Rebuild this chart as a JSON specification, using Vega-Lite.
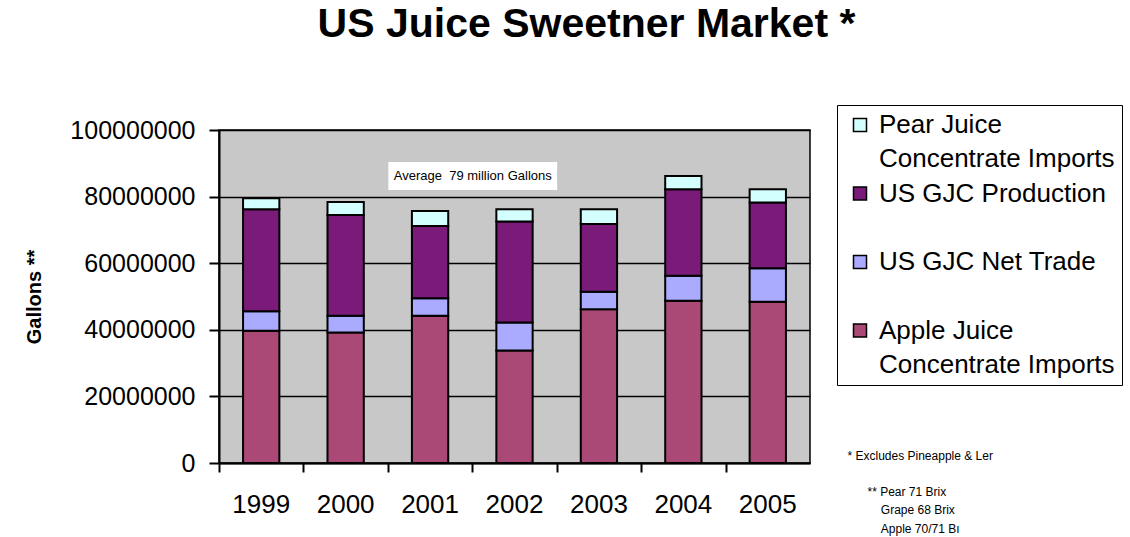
{
  "$schema": "https://vega.github.io/schema/vega-lite/v6.json",
  "width": 591,
  "height": 333,
  "autosize": {"type": "none"},
  "padding": {"left": 219, "top": 130, "right": 320, "bottom": 74},
  "background": "white",
  "title": {
    "text": "US Juice Sweetner Market *",
    "font": "Liberation Sans",
    "fontSize": 41,
    "fontWeight": "bold",
    "color": "black",
    "anchor": "middle",
    "dx": 72,
    "offset": 59
  },
  "config": {
    "view": {"fill": "#C8C8C8", "stroke": "black", "strokeWidth": 1.5},
    "style": {"guide-label": {"lineHeight": 34}}
  },
  "datasets": {
    "juice": [
      {"year": "1999", "series": "Apple Juice Concentrate Imports", "gallons": 39700000},
      {"year": "1999", "series": "US GJC Net Trade", "gallons": 5900000},
      {"year": "1999", "series": "US GJC Production", "gallons": 30600000},
      {"year": "1999", "series": "Pear Juice Concentrate Imports", "gallons": 3300000},
      {"year": "2000", "series": "Apple Juice Concentrate Imports", "gallons": 39200000},
      {"year": "2000", "series": "US GJC Net Trade", "gallons": 5000000},
      {"year": "2000", "series": "US GJC Production", "gallons": 30300000},
      {"year": "2000", "series": "Pear Juice Concentrate Imports", "gallons": 3900000},
      {"year": "2001", "series": "Apple Juice Concentrate Imports", "gallons": 44200000},
      {"year": "2001", "series": "US GJC Net Trade", "gallons": 5300000},
      {"year": "2001", "series": "US GJC Production", "gallons": 21700000},
      {"year": "2001", "series": "Pear Juice Concentrate Imports", "gallons": 4500000},
      {"year": "2002", "series": "Apple Juice Concentrate Imports", "gallons": 33800000},
      {"year": "2002", "series": "US GJC Net Trade", "gallons": 8400000},
      {"year": "2002", "series": "US GJC Production", "gallons": 30300000},
      {"year": "2002", "series": "Pear Juice Concentrate Imports", "gallons": 3700000},
      {"year": "2003", "series": "Apple Juice Concentrate Imports", "gallons": 46200000},
      {"year": "2003", "series": "US GJC Net Trade", "gallons": 5200000},
      {"year": "2003", "series": "US GJC Production", "gallons": 20400000},
      {"year": "2003", "series": "Pear Juice Concentrate Imports", "gallons": 4400000},
      {"year": "2004", "series": "Apple Juice Concentrate Imports", "gallons": 48700000},
      {"year": "2004", "series": "US GJC Net Trade", "gallons": 7500000},
      {"year": "2004", "series": "US GJC Production", "gallons": 26000000},
      {"year": "2004", "series": "Pear Juice Concentrate Imports", "gallons": 4000000},
      {"year": "2005", "series": "Apple Juice Concentrate Imports", "gallons": 48400000},
      {"year": "2005", "series": "US GJC Net Trade", "gallons": 10100000},
      {"year": "2005", "series": "US GJC Production", "gallons": 19700000},
      {"year": "2005", "series": "Pear Juice Concentrate Imports", "gallons": 4000000}
    ],
    "note": [
      {"label": "Average \u00a079 million Gallons", "from": "2001", "to": "2003", "at": "2002", "low": 82000000, "high": 90400000, "mid": 86200000}
    ]
  },
  "layer": [
    {
      "data": {"name": "juice"},
      "transform": [
        {"window": [{"op": "row_number", "as": "stackRank"}], "groupby": ["year"]}
      ],
      "mark": {"type": "bar", "stroke": "black", "strokeWidth": 2},
      "encoding": {
        "x": {
          "field": "year",
          "type": "nominal",
          "scale": {"paddingInner": 0.57, "paddingOuter": 0.285},
          "axis": {
            "title": ["* Excludes Pineapple & Ler", "\u200b", "\u200b\u00a0\u00a0\u00a0\u00a0\u00a0\u00a0** Pear 71 Brix", "\u200b\u00a0\u00a0\u00a0\u00a0\u00a0\u00a0\u00a0\u00a0\u00a0\u00a0Grape 68 Brix", "\u200b\u00a0\u00a0\u00a0\u00a0\u00a0\u00a0\u00a0\u00a0\u00a0\u00a0Apple 70/71 B\u0131"],
            "titleX": 628,
            "titleY": -4,
            "titleAlign": "left",
            "titleBaseline": "alphabetic",
            "titleAngle": 0,
            "titleFont": "Liberation Sans",
            "titleFontSize": 12,
            "titleFontWeight": "normal",
            "titleLineHeight": 18.3,
            "titleColor": "black",
            "labelAngle": 0,
            "labelFont": "Liberation Sans",
            "labelFontSize": 26,
            "labelColor": "black",
            "labelPadding": 19,
            "tickSize": 9,
            "bandPosition": -0.65,
            "tickColor": "black",
            "tickWidth": 2,
            "domainColor": "black",
            "domainWidth": 2,
            "grid": false
          }
        },
        "y": {
          "field": "gallons",
          "type": "quantitative",
          "stack": "zero",
          "scale": {"domain": [0, 100000000], "nice": false},
          "axis": {
            "title": "Gallons **",
            "titleFont": "Liberation Sans",
            "titleFontSize": 20,
            "titleFontWeight": "bold",
            "titleColor": "black",
            "titlePadding": 25,
            "values": [0, 20000000, 40000000, 60000000, 80000000, 100000000],
            "format": "d",
            "labelFont": "Liberation Sans",
            "labelFontSize": 25,
            "labelColor": "black",
            "labelPadding": 14,
            "tickSize": 10,
            "tickColor": "black",
            "tickWidth": 2,
            "domainColor": "black",
            "domainWidth": 2,
            "grid": true,
            "gridColor": "black",
            "gridWidth": 1.5
          }
        },
        "order": {"field": "stackRank", "type": "quantitative", "sort": "ascending"},
        "color": {
          "field": "series",
          "type": "nominal",
          "sort": ["Pear Juice Concentrate Imports", "US GJC Production", "US GJC Net Trade", "Apple Juice Concentrate Imports"],
          "scale": {
            "domain": ["Pear Juice Concentrate Imports", "US GJC Production", "US GJC Net Trade", "Apple Juice Concentrate Imports"],
            "range": ["#D4FFFF", "#7A1A79", "#AAAAFF", "#AA4975"]
          },
          "legend": {
            "orient": "none",
            "legendX": 618,
            "legendY": -25,
            "title": null,
            "strokeColor": "black",
            "fillColor": "white",
            "padding": 7,
            "symbolType": "square",
            "symbolSize": 169,
            "symbolStrokeColor": "black",
            "symbolStrokeWidth": 1.5,
            "symbolOffset": 3,
            "labelFont": "Liberation Sans",
            "labelFontSize": 26,
            "labelColor": "black",
            "labelLimit": 0,
            "labelOffset": 6,
            "rowPadding": 8.5,
            "labelExpr": "datum.label == 'Pear Juice Concentrate Imports' ? ['Pear Juice', 'Concentrate Imports'] : datum.label == 'Apple Juice Concentrate Imports' ? ['Apple Juice', 'Concentrate Imports'] : [datum.label, '\u200b']"
          }
        }
      }
    },
    {
      "data": {"name": "note"},
      "mark": {"type": "rect", "fill": "white"},
      "encoding": {
        "x": {"field": "from", "type": "nominal", "bandPosition": -0.65},
        "x2": {"field": "to", "bandPosition": -0.65},
        "y": {"field": "low", "type": "quantitative"},
        "y2": {"field": "high"}
      }
    },
    {
      "data": {"name": "note"},
      "mark": {"type": "text", "font": "Liberation Sans", "fontSize": 13, "color": "black"},
      "encoding": {
        "x": {"field": "at", "type": "nominal", "bandPosition": -0.65},
        "y": {"field": "mid", "type": "quantitative"},
        "text": {"field": "label"}
      }
    }
  ]
}
